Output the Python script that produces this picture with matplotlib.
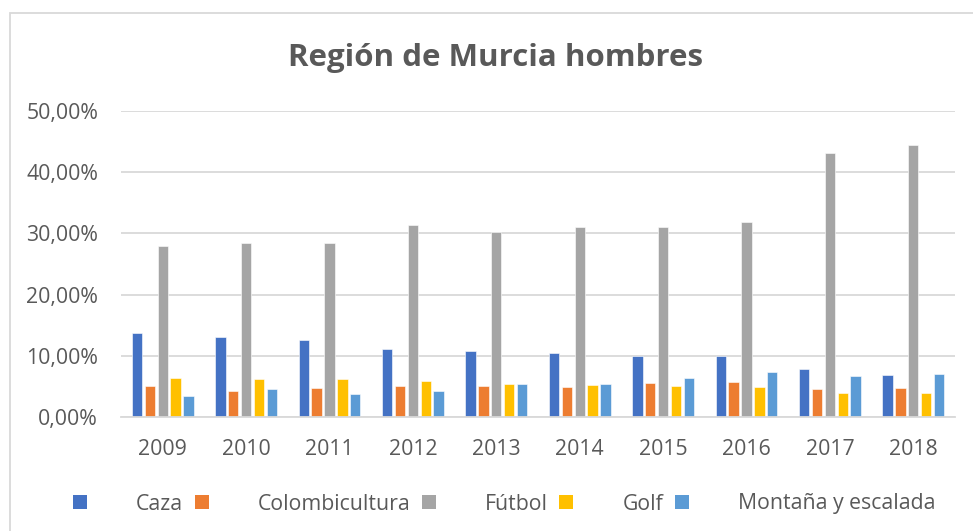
import numpy as np
import matplotlib
matplotlib.use("Agg")
import matplotlib.pyplot as plt
from matplotlib.patches import Rectangle, Patch
from matplotlib.ticker import FuncFormatter

years = ["2009", "2010", "2011", "2012", "2013", "2014", "2015", "2016", "2017", "2018"]
caza = [13.8, 13.0, 12.6, 11.1, 10.8, 10.4, 10.0, 10.0, 7.9, 6.9]
colombicultura = [5.0, 4.3, 4.8, 5.1, 5.0, 4.9, 5.5, 5.7, 4.6, 4.8]
futbol = [27.9, 28.5, 28.4, 31.4, 30.3, 31.0, 31.0, 31.8, 43.2, 44.4]
golf = [6.4, 6.2, 6.2, 5.9, 5.4, 5.2, 5.0, 4.9, 3.9, 4.0]
montana = [3.4, 4.6, 3.7, 4.2, 5.4, 5.4, 6.4, 7.4, 6.7, 7.0]

series = ["Caza", "Colombicultura", "Fútbol", "Golf", "Montaña y escalada"]
values = [caza, colombicultura, futbol, golf, montana]
colors = ["#4472C4", "#ED7D31", "#A5A5A5", "#FFC000", "#5B9BD5"]

TEXT = "#595959"
GRID = "#D9D9D9"
FONT = "Open Sans"
FS = 15.3

fig = plt.figure(figsize=(9.73, 5.31), dpi=100)
ax = fig.add_axes([121 / 973, 114 / 531, 834 / 973, 306 / 531])

x = np.arange(len(years))
pitch = 0.154
width = 0.124
for k, (name, vals, col) in enumerate(zip(series, values, colors)):
    ax.bar(x + (k - 2) * pitch, vals, width=width, color=col,
           edgecolor="white", linewidth=0.4, label=name, zorder=2)

ax.set_xlim(-0.5, len(years) - 0.5)
ax.set_ylim(0, 50)
ax.set_yticks(np.arange(0, 51, 10))
ax.yaxis.set_major_formatter(FuncFormatter(lambda v, _: f"{v:.2f}%".replace(".", ",")))
ax.set_xticks(x)
ax.set_xticklabels(years)
ax.grid(axis="y", color=GRID, lw=1.3, zorder=0)
for side in ("top", "right", "left"):
    ax.spines[side].set_visible(False)
ax.spines["bottom"].set_color(GRID)
ax.spines["bottom"].set_linewidth(1.3)
ax.tick_params(length=0, colors=TEXT, labelsize=FS)
ax.tick_params(axis="y", pad=16.5)
ax.tick_params(axis="x", pad=16)
for lbl in ax.get_xticklabels() + ax.get_yticklabels():
    lbl.set_fontfamily(FONT)

fig.text(496 / 973, 1 - 58 / 531, "Región de Murcia hombres", ha="center",
         va="center", fontsize=22.5, fontweight="bold", color=TEXT, family=FONT)

handles = [Patch(facecolor=c, edgecolor="none") for c in colors]
leg = fig.legend(handles, series, loc="center", bbox_to_anchor=(504 / 973, 1 - 504 / 531),
                 ncol=5, frameon=False, handlelength=0.66, handleheight=0.66,
                 handletextpad=2.3, columnspacing=0.55,
                 prop={"family": FONT, "size": FS})
for t in leg.get_texts():
    t.set_color(TEXT)

# chart area border
fig.patches.append(Rectangle((10 / 973, -0.05), 1.0, 1 - 13 / 531 + 0.05,
                             transform=fig.transFigure, fill=False,
                             edgecolor=GRID, lw=1.3))

fig.savefig("out.png", dpi=100)
